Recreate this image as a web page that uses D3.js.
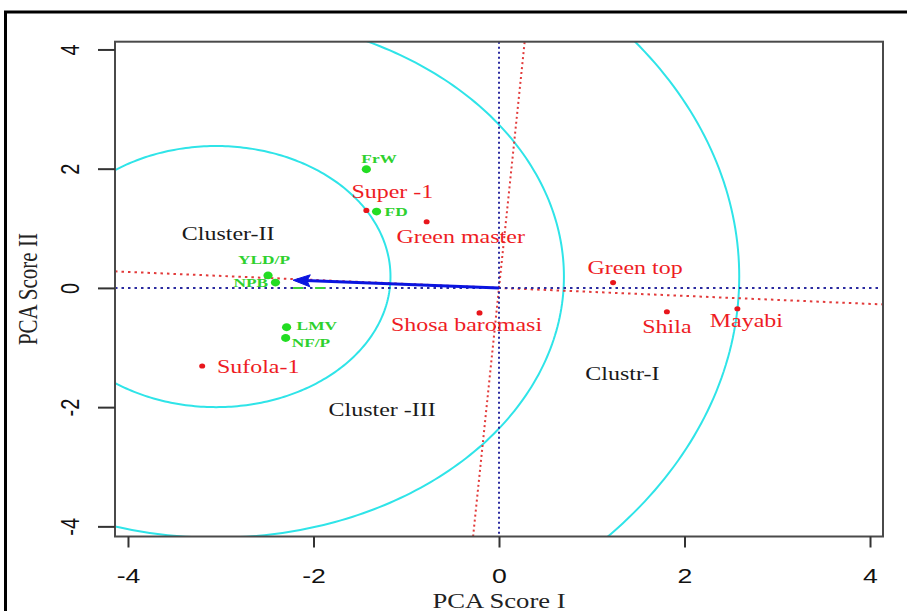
<!DOCTYPE html>
<html>
<head>
<meta charset="utf-8">
<script src="https://cdn.jsdelivr.net/npm/d3@7"></script>
<style>
  html, body { margin: 0; padding: 0; background: #fff; }
  svg { display: block; }
</style>
</head>
<body>
<svg id="chart" width="907" height="611"></svg>
<script>
// ---------------- data ----------------
const xTicks = [-4, -2, 0, 2, 4];
const yTicks = [-4, -2, 0, 2, 4];
const xTickLabels = ["-4", "-2", "0", "2", "4"];
const yTickLabels = ["-4", "-2", "0", "2", "4"];

const genotypes = ["Super -1", "Green master", "Shosa baromasi", "Green top", "Shila", "Mayabi", "Sufola-1"];
const genoX = [-1.43, -0.78, -0.21, 1.23, 1.81, 2.57, -3.20];
const genoY = [1.30, 1.11, -0.42, 0.09, -0.40, -0.35, -1.31];

const traits = ["FrW", "FD", "YLD/P", "NPB", "LMV", "NF/P"];
const traitX = [-1.43, -1.32, -2.49, -2.41, -2.29, -2.30];
const traitY = [1.99, 1.28, 0.21, 0.09, -0.66, -0.84];

const clusterNames = ["Cluster-II", "Cluster -III", "Clustr-I"];
const clusterX = [-2.92, -1.26, 1.33];
const clusterY = [0.80, -2.15, -1.55];

const ringCenter = [-3.05, 0.19];
const ringRadiusX = [1.88, 3.75, 5.64];
const ringRadiusY = [2.19, 4.38, 6.58];

const arrowEnd = [-2.22, 0.13];
const rotatedAxisSlope = -0.067;

// ---------------- layout ----------------
const svg = d3.select("#chart");
const box = { left: 115, right: 883, top: 41.7, bottom: 536.5 };
const stretch = 1.333;

const x = d3.scaleLinear().domain([-4.14, 4.14]).range([box.left, box.right]);
const y = d3.scaleLinear().domain([-4.17, 4.13]).range([box.bottom, box.top]);

// outer frame
svg.append("rect")
  .attr("x", 5.5).attr("y", 12).attr("width", 1000).attr("height", 700)
  .attr("fill", "none").attr("stroke", "#000").attr("stroke-width", 3);

svg.append("defs").append("clipPath").attr("id", "plotclip")
  .append("rect")
  .attr("x", box.left).attr("y", box.top)
  .attr("width", box.right - box.left).attr("height", box.bottom - box.top);

const plot = svg.append("g").attr("clip-path", "url(#plotclip)");

// rings (cluster boundaries)
const ringData = ringRadiusX.map((rx, i) => ({ rx, ry: ringRadiusY[i] }));
const ringLine = d3.line().x(d => d[0]).y(d => d[1]);
plot.selectAll("path.ring").data(ringData).join("path")
  .attr("class", "ring")
  .attr("fill", "none")
  .attr("stroke", "#2fe4e8")
  .attr("stroke-width", 2)
  .attr("d", d => {
    const pts = d3.range(0, 361, 1).map(a => {
      const t = a * Math.PI / 180;
      return [x(ringCenter[0] + d.rx * Math.cos(t)), y(ringCenter[1] + d.ry * Math.sin(t))];
    });
    return ringLine(pts);
  });

// rotated axes (red dotted)
plot.append("line")
  .attr("x1", x(-4.14)).attr("y1", y(-4.14 * rotatedAxisSlope))
  .attr("x2", x(4.14)).attr("y2", y(4.14 * rotatedAxisSlope))
  .attr("stroke", "#e23a3a").attr("stroke-width", 2)
  .attr("stroke-dasharray", "2.5,4");
plot.append("line")
  .attr("x1", x(4.17 * rotatedAxisSlope)).attr("y1", y(-4.17))
  .attr("x2", x(-4.13 * rotatedAxisSlope)).attr("y2", y(4.13))
  .attr("stroke", "#e23a3a").attr("stroke-width", 2)
  .attr("stroke-dasharray", "2,3");

// zero lines (blue dotted)
plot.append("line")
  .attr("x1", box.left).attr("x2", box.right)
  .attr("y1", y(0)).attr("y2", y(0))
  .attr("stroke", "#2b2ba0").attr("stroke-width", 2)
  .attr("stroke-dasharray", "2.5,4");
plot.append("line")
  .attr("x1", x(0)).attr("x2", x(0))
  .attr("y1", box.top).attr("y2", box.bottom)
  .attr("stroke", "#2b2ba0").attr("stroke-width", 2)
  .attr("stroke-dasharray", "2,3");

// small green dashes along the axis near the arrow
plot.append("line")
  .attr("x1", x(-2.22)).attr("x2", x(-1.83))
  .attr("y1", y(0)).attr("y2", y(0))
  .attr("stroke", "#3ad13a").attr("stroke-width", 2)
  .attr("stroke-dasharray", "10,12");

// arrow
const ax0 = x(0), ay0 = y(0), ax1 = x(arrowEnd[0]), ay1 = y(arrowEnd[1]);
plot.append("line")
  .attr("x1", ax0).attr("y1", ay0).attr("x2", ax1 + 6).attr("y2", ay1 + 0.2)
  .attr("stroke", "#0a14e0").attr("stroke-width", 3);
{
  const ang = Math.atan2(ay1 - ay0, ax1 - ax0);
  const L = 17, W = 6;
  const bx = ax1 - L * Math.cos(ang), by = ay1 - L * Math.sin(ang);
  const px = -Math.sin(ang), py = Math.cos(ang);
  plot.append("path")
    .attr("d", `M${ax1},${ay1}L${bx + W * px},${by + W * py}L${bx + 3*Math.cos(ang)},${by + 3*Math.sin(ang)}L${bx - W * px},${by - W * py}Z`)
    .attr("fill", "#0a14e0").attr("stroke", "#0a14e0").attr("stroke-width", 1);
}

// plot box
svg.append("rect")
  .attr("x", box.left).attr("y", box.top)
  .attr("width", box.right - box.left).attr("height", box.bottom - box.top)
  .attr("fill", "none").attr("stroke", "#4a4a4a").attr("stroke-width", 2);

// axes
const xAxis = svg.append("g")
  .attr("transform", `translate(0,${box.bottom})`)
  .call(d3.axisBottom(x).tickValues(xTicks).tickSize(11)
    .tickFormat((d, i) => xTickLabels[i]));
xAxis.select(".domain").remove();
xAxis.selectAll(".tick line").attr("stroke", "#333").attr("stroke-width", 2);
xAxis.selectAll(".tick text")
  .attr("y", 47).attr("dy", null)
  .attr("transform", `scale(${stretch},1)`)
  .attr("fill", "#111")
  .style("font-family", "'Liberation Sans', Arial, sans-serif")
  .style("font-size", "20px");

const yAxis = svg.append("g")
  .attr("transform", `translate(${box.left},0)`)
  .call(d3.axisLeft(y).tickValues(yTicks).tickSize(17)
    .tickFormat((d, i) => yTickLabels[i]));
yAxis.select(".domain").remove();
yAxis.selectAll(".tick line").attr("stroke", "#333").attr("stroke-width", 2);
yAxis.selectAll(".tick text")
  .attr("x", 0).attr("dy", null).attr("y", 0)
  .attr("text-anchor", "middle")
  .attr("transform", `translate(-36,0) scale(${stretch},1) rotate(-90)`)
  .attr("fill", "#111")
  .style("font-family", "'Liberation Sans', Arial, sans-serif")
  .style("font-size", "20px");

// axis titles
svg.append("text")
  .attr("transform", `translate(${(box.left + box.right) / 2},608) scale(${stretch},1)`)
  .attr("text-anchor", "middle")
  .style("font-family", "'Liberation Serif', 'Times New Roman', serif")
  .style("font-size", "20px").attr("fill", "#222")
  .text("PCA Score I");
svg.append("text")
  .attr("transform", `translate(37,${(box.top + box.bottom) / 2}) scale(${stretch},1) rotate(-90)`)
  .attr("text-anchor", "middle")
  .style("font-family", "'Liberation Serif', 'Times New Roman', serif")
  .style("font-size", "21px").attr("fill", "#222")
  .text("PCA Score II");

// genotype points + labels
const genoLabelOffset = {
  "Super -1": [26, -12], "Green master": [34, 21], "Shosa baromasi": [-13, 18],
  "Green top": [22, -9], "Shila": [0, 21], "Mayabi": [9, 18], "Sufola-1": [56, 7]
};
const genoData = genotypes.map((n, i) => ({ n, gx: genoX[i], gy: genoY[i] }));
svg.selectAll("ellipse.geno").data(genoData).join("ellipse")
  .attr("class", "geno")
  .attr("cx", d => x(d.gx)).attr("cy", d => y(d.gy))
  .attr("rx", 3).attr("ry", 2.6).attr("fill", "#e8161c");
svg.selectAll("text.geno").data(genoData).join("text")
  .attr("class", "geno")
  .attr("transform", d => `translate(${x(d.gx) + genoLabelOffset[d.n][0]},${y(d.gy) + genoLabelOffset[d.n][1]}) scale(${stretch},1)`)
  .attr("text-anchor", "middle")
  .style("font-family", "'Liberation Serif', 'Times New Roman', serif")
  .style("font-size", "18px").attr("fill", "#ee1c24")
  .text(d => d.n);

// trait points + labels
const traitLabelOffset = {
  "FrW": [-5, -6], "FD": [8, 4.5], "YLD/P": [-30, -11], "NPB": [-42, 4.5],
  "LMV": [10, 3], "NF/P": [6, 9]
};
const traitData = traits.map((n, i) => ({ n, tx: traitX[i], ty: traitY[i] }));
svg.selectAll("text.trait").data(traitData).join("text")
  .attr("class", "trait")
  .attr("transform", d => `translate(${x(d.tx) + traitLabelOffset[d.n][0]},${y(d.ty) + traitLabelOffset[d.n][1]}) scale(${stretch},1)`)
  .attr("text-anchor", "start")
  .style("font-family", "'Liberation Serif', 'Times New Roman', serif")
  .style("font-weight", "bold")
  .style("font-size", "13px").attr("fill", "#2ed12e")
  .text(d => d.n);
svg.selectAll("ellipse.trait").data(traitData).join("ellipse")
  .attr("class", "trait")
  .attr("cx", d => x(d.tx)).attr("cy", d => y(d.ty))
  .attr("rx", 4.6).attr("ry", 3.9).attr("fill", "#22dd22");

// cluster labels
const clusterData = clusterNames.map((n, i) => ({ n, cx: clusterX[i], cy: clusterY[i] }));
svg.selectAll("text.cluster").data(clusterData).join("text")
  .attr("class", "cluster")
  .attr("transform", d => `translate(${x(d.cx)},${y(d.cy)}) scale(${stretch},1)`)
  .attr("text-anchor", "middle")
  .style("font-family", "'Liberation Serif', 'Times New Roman', serif")
  .style("font-size", "18px").attr("fill", "#1a1a1a")
  .text(d => d.n);
</script>
</body>
</html>
